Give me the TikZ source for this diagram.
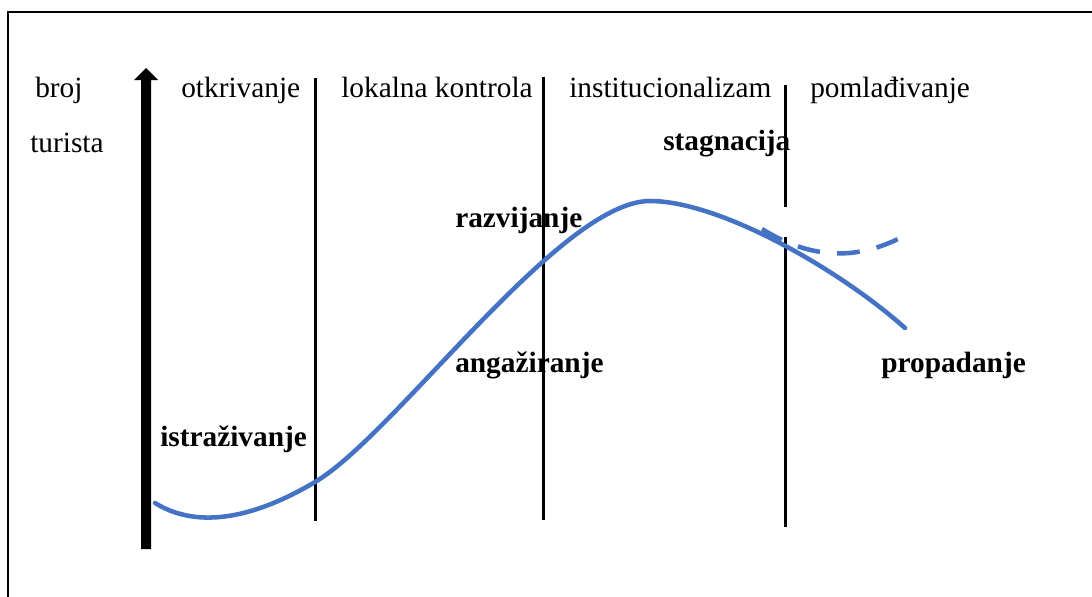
\documentclass[tikz,border=0pt]{standalone}
\usepackage{fontspec}
\setmainfont{Liberation Serif}
\definecolor{curveblue}{RGB}{68,114,196}
\begin{document}
\begin{tikzpicture}[x=0.75pt,y=-0.75pt,
  lbl/.style={anchor=base west,inner sep=0pt,font=\fontsize{22}{26}\selectfont},
  blbl/.style={lbl,font=\fontsize{22}{26}\selectfont\bfseries},
  divider/.style={line width=2.25pt,black},
  trend/.style={line width=3.4pt,curveblue,line cap=round}]
\useasboundingbox (0,0) rectangle (1092,596);
\fill[white] (0,0) rectangle (1092,596);
% frame
\draw[line width=1.5pt] (8,600) -- (8,12) -- (1100,12);
% texts
\node[lbl] (broj) at (35,97) {broj};
\node[lbl] (turista) at (30,152) {turista};
\node[lbl] (otk) at (181,97) {otkrivanje};
\node[lbl] (lok) at (341,97) {lokalna kontrola};
\node[lbl] (inst) at (569,97) {institucionalizam};
\node[lbl] (pom) at (810,97) {pomlađivanje};
\node[blbl] (istr) at (160,446) {istraživanje};
\node[blbl] (anga) at (455,372) {angažiranje};
\node[blbl] (razv) at (455,227) {razvijanje};
\node[blbl] (stag) at (663,150) {stagnacija};
\node[blbl] (prop) at (881,372) {propadanje};
% dividers
\draw[divider] (315,78) -- (315,521);
\draw[divider] (543,77) -- (543,520);
\draw[divider] (785,85) -- (785,207);
\draw[divider] (785,237) -- (785,527);
% axis arrow
\fill[black] (141,549) -- (141,80) -- (134,80) -- (146,68) -- (158,80) -- (151,80) -- (151,549) -- cycle;
% curve
\draw[trend] (155,503) .. controls (205,534) and (268,510) .. (315,482)
  .. controls (395,435) and (560,201) .. (650,201)
  .. controls (720,201) and (840,270) .. (905,328);
\draw[trend,dash pattern=on 17pt off 13pt,line cap=butt] (762,229) .. controls (815,262) and (860,258) .. (900,238);
\end{tikzpicture}
\end{document}
